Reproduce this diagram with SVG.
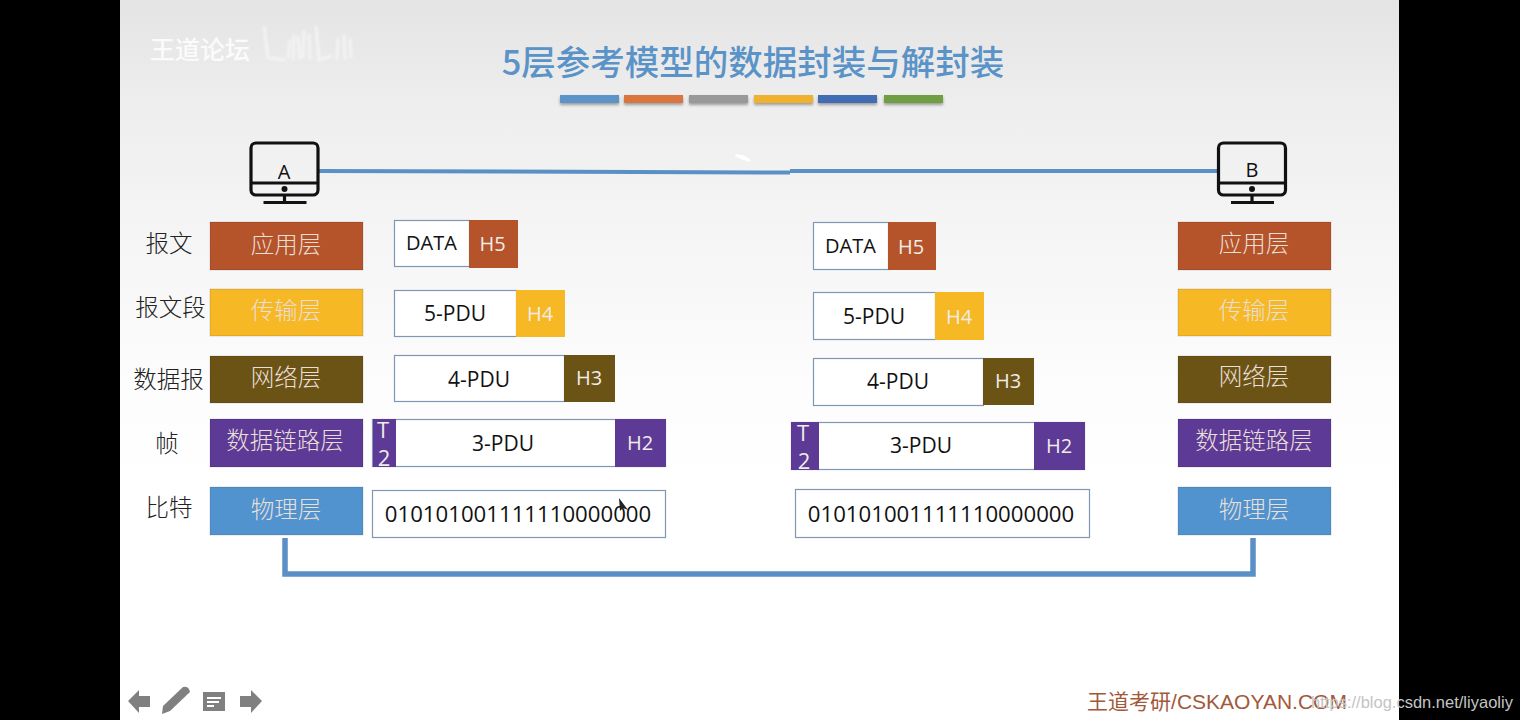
<svg xmlns="http://www.w3.org/2000/svg" width="1520" height="720" viewBox="0 0 1520 720">
<style>
text{font-family:"Open Sans","Noto Sans CJK SC",sans-serif;text-anchor:middle;dominant-baseline:central}
.cjk{font-family:"Noto Sans CJK SC",sans-serif;font-weight:300}
.lay{font-size:23.500px;fill:#e9dfd6}
.side{font-size:23.500px;fill:#222}
.pdu{font-size:21px;fill:#111}
.bits{font-size:22.200px;fill:#111}
.hdr{font-size:20px;fill:#f0ece8}
.tr{font-size:22px;fill:#f0ece8}
.box{fill:#fff;stroke:#7f97b3;stroke-width:1.2}
.wire{fill:none;stroke:#5a90c6;stroke-linejoin:miter}
.pc{fill:none;stroke:#111;stroke-width:3.2}
.bar{filter:url(#sh)}
.nav{fill:#808080}
.edge{stroke:#00000022;stroke-width:1}
</style>
<defs>
<linearGradient id="bg" x1="0" y1="0" x2="0" y2="1">
<stop offset="0" stop-color="#e4e4e4"/><stop offset="0.15" stop-color="#eeeeee"/><stop offset="0.3" stop-color="#f4f4f4"/><stop offset="0.55" stop-color="#fdfdfd"/><stop offset="0.7" stop-color="#fff"/>
</linearGradient>
<filter id="sh" x="-10%" y="-50%" width="120%" height="220%"><feDropShadow dx="0" dy="2" stdDeviation="1.5" flood-color="#000" flood-opacity="0.35"/></filter>
<filter id="soft"><feGaussianBlur stdDeviation="0.8"/></filter>
<g id="pc">
<rect class="pc" x="-33.500" y="-28" width="67" height="52" rx="5"/>
<path class="pc" d="M-33 12H34M0 24V30M-21 31.500H22"/>
<circle cx="0" cy="18" r="3" fill="#111"/>
</g>
</defs>

<rect width="1520" height="720" fill="#000"/>
<rect x="120" width="1279" height="720" fill="url(#bg)"/>

<!-- header -->
<g id="logo">
<text class="cjk" x="200" y="47.500" style="font-size:25px;font-weight:500" fill="#fbfbfb">王道论坛</text>
<path d="M264 26L268 58L286 60M290 40L288 58M294 34L293 60M298 36L300 60M304 30L303 58M309 34L310 60M316 26L319 60L332 56M338 38L337 60M344 34L345 60M350 38L351 58" fill="none" stroke="#fafafa" stroke-width="3" opacity="0.6" filter="url(#soft)"/>
</g>
<text id="title" class="cjk" x="753" y="60" style="font-size:34.500px;font-weight:500" fill="#5a93c8">5层参考模型的数据封装与解封装</text>
<g id="title-bars" class="bar">
<rect x="560" y="95" width="59" height="8" fill="#5b93c9"/>
<rect x="624" y="95" width="59" height="8" fill="#d9763c"/>
<rect x="689" y="95" width="59" height="8" fill="#999"/>
<rect x="754" y="95" width="59" height="8" fill="#f0b12e"/>
<rect x="818" y="95" width="59" height="8" fill="#3f6db3"/>
<rect x="884" y="95" width="59" height="8" fill="#6f9e43"/>
</g>

<!-- connectors -->
<g id="connectors">
<path class="wire" stroke-width="4" d="M319 171L790 172.500M790 171H1218"/>
<path class="wire" stroke-width="5.500" d="M285 538V574H1253V538"/>
</g>
<path id="pointer" d="M735 154L743 155L751 160L749 162L736 157Z" fill="#fff"/>

<!-- hosts -->
<g id="host-a"><use href="#pc" x="284.500" y="171"/><text x="284" y="171" style="font-size:20px" fill="#111">A</text></g>
<g id="host-b"><use href="#pc" x="1252" y="171"/><text x="1252" y="169" style="font-size:20px" fill="#111">B</text></g>

<!-- protocol data unit names -->
<g id="unit-names">
<text class="cjk side" x="169" y="242">报文</text>
<text class="cjk side" x="170.500" y="306">报文段</text>
<text class="cjk side" x="168.500" y="378">数据报</text>
<text class="cjk side" x="167" y="442">帧</text>
<text class="cjk side" x="169" y="506">比特</text>
</g>

<!-- sender stack -->
<g id="a-app"><rect class="edge" x="210" y="222" width="153" height="48" fill="#b5532a"/><text class="cjk lay" x="286" y="243">应用层</text></g>
<g id="a-trans"><rect class="edge" x="210" y="289" width="153" height="47" fill="#f7b825"/><text class="cjk lay" x="286" y="309">传输层</text></g>
<g id="a-net"><rect class="edge" x="210" y="356" width="153" height="47" fill="#6b5316"/><text class="cjk lay" x="286" y="376">网络层</text></g>
<g id="a-link"><rect class="edge" x="210" y="419" width="153" height="48" fill="#5c3a96"/><text class="cjk lay" x="285" y="439">数据链路层</text></g>
<g id="a-phy"><rect class="edge" x="210" y="487" width="153" height="48" fill="#5193cf"/><text class="cjk lay" x="286" y="508">物理层</text></g>

<!-- receiver stack -->
<g id="b-app"><rect class="edge" x="1178" y="222" width="153" height="48" fill="#b5532a"/><text class="cjk lay" x="1254" y="242">应用层</text></g>
<g id="b-trans"><rect class="edge" x="1178" y="289" width="153" height="47" fill="#f7b825"/><text class="cjk lay" x="1254" y="309">传输层</text></g>
<g id="b-net"><rect class="edge" x="1178" y="356" width="153" height="47" fill="#6b5316"/><text class="cjk lay" x="1254" y="375">网络层</text></g>
<g id="b-link"><rect class="edge" x="1178" y="419" width="153" height="48" fill="#5c3a96"/><text class="cjk lay" x="1254" y="439">数据链路层</text></g>
<g id="b-phy"><rect class="edge" x="1178" y="487" width="153" height="48" fill="#5193cf"/><text class="cjk lay" x="1254" y="508">物理层</text></g>

<!-- sender encapsulation -->
<g id="a-data"><rect class="box" x="394.500" y="220.500" width="75" height="46"/><text class="pdu" x="431.500" y="242.500" style="font-size:20px">DATA</text><rect x="469" y="220" width="49" height="48" fill="#b5532a"/><text class="hdr" x="492.500" y="243.500">H5</text></g>
<g id="a-5pdu"><rect class="box" x="394.500" y="290.500" width="122" height="46"/><text class="pdu" x="455" y="312.500">5-PDU</text><rect x="516" y="290" width="49" height="47" fill="#f7b825"/><text class="hdr" x="540" y="313">H4</text></g>
<g id="a-4pdu"><rect class="box" x="394.500" y="355.500" width="170" height="46"/><text class="pdu" x="479" y="378.500">4-PDU</text><rect x="564" y="355" width="51" height="47" fill="#6b5316"/><text class="hdr" x="589" y="377">H3</text></g>
<g id="a-3pdu"><rect class="box" x="372.500" y="419.500" width="293" height="47"/><rect x="373" y="419" width="23" height="48" fill="#5c3a96"/><text class="tr" x="383" y="429">T</text><text class="tr" x="384" y="457">2</text><text class="pdu" x="503" y="443">3-PDU</text><rect x="615" y="419" width="51" height="48" fill="#5c3a96"/><text class="hdr" x="640" y="442">H2</text></g>
<g id="a-bits"><rect class="box" x="372.500" y="490.500" width="293" height="47"/><text class="bits" x="518" y="513.500">010101001111110000000</text></g>
<path id="cursor" d="M619 498L620 511L623 508L628 510Z" fill="#222"/>

<!-- receiver decapsulation -->
<g id="b-data"><rect class="box" x="813.500" y="222.500" width="75" height="47"/><text class="pdu" x="850.500" y="245.500" style="font-size:20px">DATA</text><rect x="888" y="222" width="48" height="48" fill="#b5532a"/><text class="hdr" x="911" y="246">H5</text></g>
<g id="b-5pdu"><rect class="box" x="813.500" y="292.500" width="122" height="47"/><text class="pdu" x="874" y="316">5-PDU</text><rect x="935" y="292" width="49" height="48" fill="#f7b825"/><text class="hdr" x="959" y="316">H4</text></g>
<g id="b-4pdu"><rect class="box" x="813.500" y="358.500" width="170" height="47"/><text class="pdu" x="898" y="381">4-PDU</text><rect x="983" y="358" width="51" height="47" fill="#6b5316"/><text class="hdr" x="1008" y="380">H3</text></g>
<g id="b-3pdu"><rect class="box" x="791.500" y="422.500" width="293" height="47"/><rect x="791" y="422" width="28" height="48" fill="#5c3a96"/><text class="tr" x="803" y="432">T</text><text class="tr" x="804" y="460">2</text><text class="pdu" x="921" y="445">3-PDU</text><rect x="1034" y="422" width="51" height="48" fill="#5c3a96"/><text class="hdr" x="1059" y="445">H2</text></g>
<g id="b-bits"><rect class="box" x="795.500" y="489.500" width="294" height="48"/><text class="bits" x="941" y="513.500">010101001111110000000</text></g>

<!-- slide toolbar -->
<g id="toolbar" class="nav">
<path d="M128 701L139 690V696H150V707H139V713Z"/>
<path d="M163 706L183 687Q187 686 189 689L190 692L170 711L162 714Z"/>
<path fill-rule="evenodd" d="M203 692H225V711H203ZM207 697V699H221V697ZM207 701V703H219V701ZM207 705V707H214V705Z"/>
<path d="M262 701L251 690V696H240V707H251V713Z"/>
</g>

<!-- footer marks -->
<text id="brand" x="1217" y="701" style="font-family:'Liberation Sans','Noto Sans CJK SC',sans-serif;font-size:21px" fill="#a2583a">王道考研/CSKAOYAN.COM</text>
<text id="blog" x="1412" y="702" style="font-family:'Liberation Sans',sans-serif;font-size:16.500px" fill="#c4c4c4">https://blog.csdn.net/liyaoliy</text>
</svg>
